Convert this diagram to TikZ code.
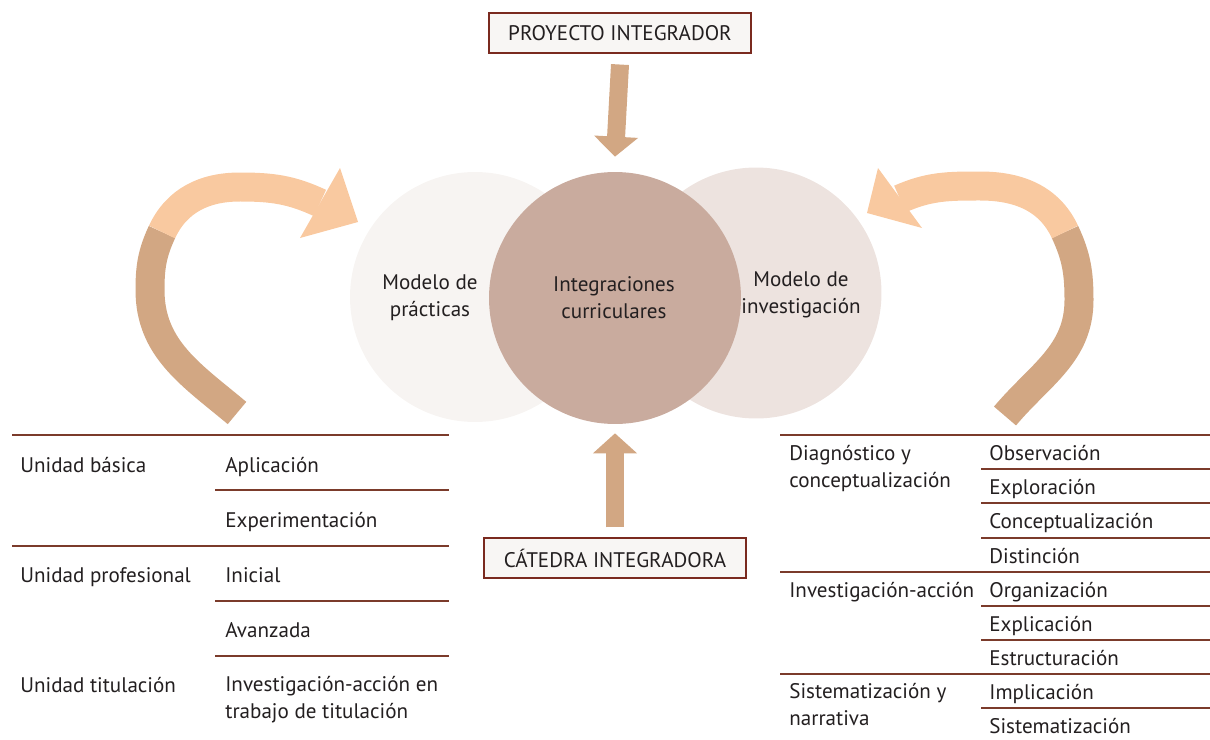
\documentclass[tikz,border=0pt]{standalone}
\usepackage{fontspec}
\setmainfont{PT Sans}
\usetikzlibrary{arrows.meta}
\definecolor{boxline}{HTML}{7A2A1F}
\definecolor{boxfill}{HTML}{F8F6F4}
\definecolor{rulecol}{HTML}{7B3B2B}
\definecolor{tanarrow}{HTML}{D2A783}
\definecolor{peacharrow}{HTML}{F9C9A0}
\definecolor{circprac}{HTML}{F7F4F2}
\definecolor{circint}{HTML}{C9AB9E}
\definecolor{circinv}{HTML}{EDE3DF}
\definecolor{ink}{HTML}{231F20}

\begin{document}
\begin{tikzpicture}[x=0.02cm, y=0.02cm,
    every node/.style={font=\fontsize{12}{15.3}\selectfont, text=ink},
    titlebox/.style={draw=boxline, fill=boxfill, line width=0.9pt, minimum width=5.25cm, minimum height=0.79cm},
    bubble/.style={circle, inner sep=0pt},
    cell/.style={anchor=base west, align=left, inner sep=0pt},
    bubbletext/.style={align=center, inner sep=0pt},
    blockarrow/.style={draw=tanarrow, line width=0.36cm, -{Triangle[width=0.86cm, length=0.4cm]}},
    band/.style={line width=0.58cm},
    tablerule/.style={draw=rulecol, line width=1pt}]
    \useasboundingbox (0,0) rectangle (1210,-740);

    % Circles
    \node[bubble, fill=circprac, minimum size=5cm] (mp) at (475,-297) {};
    \node[bubble, fill=circinv, minimum size=5.02cm] (mi) at (756,-293) {};
    \node[bubble, fill=circint, minimum size=5.04cm] (ic) at (615,-298) {};
    \node[bubbletext] (tmp) at (430,-298) {Modelo de\\prácticas};
    \node[bubbletext] (tic) at (614,-298) {Integraciones\\curriculares};
    \node[bubbletext] (tmi) at (801,-295) {Modelo de\\investigación};

    % Boxes
    \node[titlebox] (pi) at (620,-33) {PROYECTO INTEGRADOR};
    \node[titlebox] (ci) at (615,-558) {CÁTEDRA INTEGRADORA};

    % Block arrows
    \draw[blockarrow] ([yshift=-0.22cm]pi.south) -- ([yshift=0.3cm]ic.north);
    \draw[blockarrow] ([yshift=0.2cm]ci.north) -- ([yshift=-0.18cm]ic.south);

    % Left curved arrow
    \draw[band, tanarrow] (237,-413) to[out=140,in=-90] (150,-290) to[out=90,in=-115] (162,-232);
    \draw[band, peacharrow] (162,-232) to[out=65,in=180] (240,-187) to[out=0,in=155] (320,-203);
    \fill[peacharrow] (340,-168) -- (358,-222) -- (300,-238) -- cycle;

    % Right curved arrow
    \draw[band, tanarrow] (1005,-416) to[out=50,in=-90] (1079,-300) to[out=90,in=-65] (1065,-232);
    \draw[band, peacharrow] (1065,-232) to[out=115,in=0] (980,-186) to[out=180,in=24] (900,-199);
    \fill[peacharrow] (878,-168) -- (867,-213) -- (922,-228) -- cycle;

    % Left table
    \draw[tablerule] (12,-435) -- (449,-435);
    \draw[tablerule] (12,-546) -- (449,-546);
    \foreach \yy in {490,601,656}
        \draw[tablerule] (215,-\yy) -- (449,-\yy);
    \node[cell] (ub) at (20,-472) {Unidad básica};
    \node[cell] (apl) at (225,-472) {Aplicación};
    \node[cell] (exp) at (225,-527) {Experimentación};
    \node[cell] (up) at (20,-582) {Unidad profesional};
    \node[cell] (ini) at (225,-582) {Inicial};
    \node[cell] (ava) at (225,-637) {Avanzada};
    \node[cell] (ut) at (20,-692) {Unidad titulación};
    \node[cell] (iat) at (225,-718) {Investigación-acción en\\trabajo de titulación};

    % Right table
    \foreach \yy in {435,572,674}
        \draw[tablerule] (780,-\yy) -- (1210,-\yy);
    \foreach \yy in {469,503,538,606,640,708}
        \draw[tablerule] (981,-\yy) -- (1210,-\yy);
    \node[cell] (dc) at (789,-487) {Diagnóstico y\\conceptualización};
    \node[cell] (ia) at (789,-597) {Investigación-acción};
    \node[cell] (sn) at (789,-725) {Sistematización y\\narrativa};
    \node[cell] (obs) at (989,-460) {Observación};
    \node[cell] (expl) at (989,-494) {Exploración};
    \node[cell] (con) at (989,-528) {Conceptualización};
    \node[cell] (dis) at (989,-563) {Distinción};
    \node[cell] (org) at (989,-597) {Organización};
    \node[cell] (expc) at (989,-631) {Explicación};
    \node[cell] (est) at (989,-665) {Estructuración};
    \node[cell] (imp) at (989,-699) {Implicación};
    \node[cell] (sis) at (989,-733) {Sistematización};
\end{tikzpicture}
\end{document}
